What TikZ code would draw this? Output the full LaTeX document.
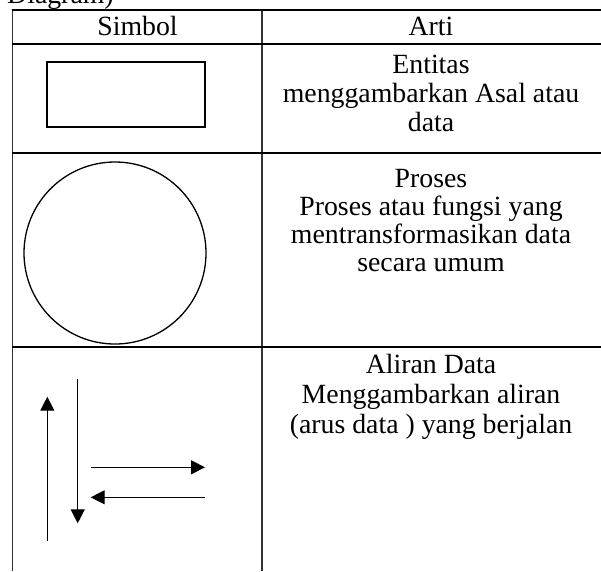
\documentclass[tikz,border=0pt]{standalone}
\usepackage{fontspec}
\setmainfont{Liberation Serif}
\usetikzlibrary{arrows.meta}
\begin{document}
\begin{tikzpicture}[x=1pt,y=-1pt,
  hrule/.style={line width=2pt,black},
  vrule/.style={line width=1.1pt,black!80},
  shapeline/.style={line width=1.3pt,black},
  flow/.style={line width=1.2pt,black,-{Triangle[length=14pt,width=14pt]}},
  txt/.style={anchor=base,inner sep=0pt,font=\fontsize{27.8}{30}\selectfont}]
\useasboundingbox (0,0) rectangle (601,571);
\clip (0,0) rectangle (601,571);
% cut-off caption line
\node[txt,anchor=base west] (cap) at (7,3) {Diagram)};
% table rules
\coordinate (tl) at (12.5,9.5);
\coordinate (tm) at (262,9.5);
\coordinate (bl) at (12.5,571);
\coordinate (bm) at (262,571);
\draw[vrule] (tl) -- (bl);
\draw[vrule] (tm) -- (bm);
\draw[hrule] (11.5,9.5) -- (601,9.5);
\draw[hrule] (11.5,43.5) -- (601,43.5);
\draw[hrule] (11.5,153) -- (601,153);
\draw[hrule] (11.5,347) -- (601,347);
% header
\node[txt] (h1) at (137.5,35) {Simbol};
\node[txt] (h2) at (431,35) {Arti};
% row 1
\node[shapeline,draw,minimum width=158pt,minimum height=65pt,inner sep=0pt] (ent) at (126,94.5) {};
\node[txt] (r1a) at (431,73) {Entitas};
\node[txt] (r1b) at (431,102.5) {menggambarkan Asal atau};
\node[txt] (r1c) at (431,131.5) {data};
% row 2
\node[shapeline,draw,circle,minimum size=182pt,inner sep=0pt] (proc) at (115,253) {};
\node[txt] (r2a) at (431,187.5) {Proses};
\node[txt] (r2b) at (431,215.5) {Proses atau fungsi yang};
\node[txt] (r2c) at (431,243.5) {mentransformasikan data};
\node[txt] (r2d) at (431,271.5) {secara umum};
% row 3
\coordinate (ua) at (47.3,540.7);
\coordinate (ub) at (47.3,396.7);
\coordinate (da) at (77.7,379.3);
\coordinate (db) at (77.7,523.3);
\coordinate (ra) at (90.7,467.3);
\coordinate (rb) at (205,467.3);
\coordinate (la) at (205,497.3);
\coordinate (lb) at (90.7,497.3);
\draw[flow] (ua) -- (ub);
\draw[flow] (da) -- (db);
\draw[flow] (ra) -- (rb);
\draw[flow] (la) -- (lb);
\node[txt] (r3a) at (431,373.3) {Aliran Data};
\node[txt] (r3b) at (431,403.3) {Menggambarkan aliran};
\node[txt] (r3c) at (431,433.3) {(arus data ) yang berjalan};
\end{tikzpicture}
\end{document}
